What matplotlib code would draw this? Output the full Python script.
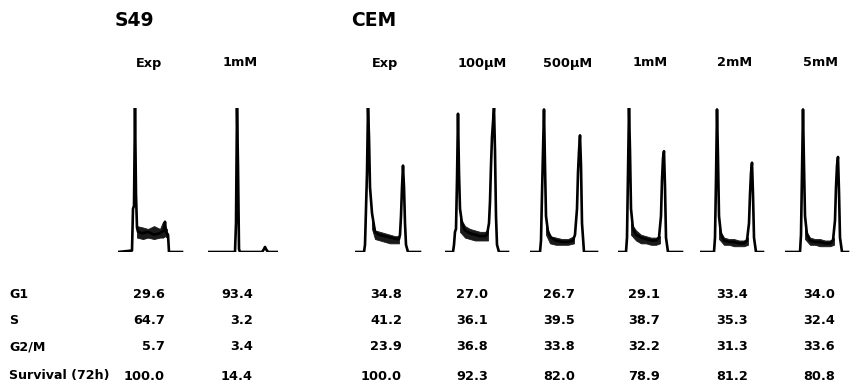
import matplotlib
matplotlib.use('Agg')
import matplotlib.pyplot as plt

W, H = 854, 389

# group titles and column labels
groups = ['S49', 'CEM']
columns = ['Exp', '1mM', 'Exp', '100\u00b5M', '500\u00b5M', '1mM', '2mM', '5mM']
row_labels = ['G1', 'S', 'G2/M', 'Survival (72h)']

# table values, one list per row
g1 = [29.6, 93.4, 34.8, 27.0, 26.7, 29.1, 33.4, 34.0]
s_phase = [64.7, 3.2, 41.2, 36.1, 39.5, 38.7, 35.3, 32.4]
g2m = [5.7, 3.4, 23.9, 36.8, 33.8, 32.2, 31.3, 33.6]
survival = [100.0, 14.4, 100.0, 92.3, 82.0, 78.9, 81.2, 80.8]

# DNA histograms (channel, relative count)
s49_exp_x = [0, 14, 15, 16, 17, 18, 19, 20, 24, 30, 36, 42, 46, 47, 48, 50, 51, 64]
s49_exp_y = [0, 1, 30, 32, 100, 40, 17, 14, 13, 14, 12, 13, 15, 21, 14, 12, 0, 0]
s49_1mm_x = [0, 27, 28, 29, 30, 31, 32, 54, 56, 57, 58, 60, 69]
s49_1mm_y = [0, 0, 20, 100, 60, 2, 0, 0, 2, 3.5, 2, 0, 0]
cem_exp_x = [0, 9, 10, 11, 12, 13, 14, 15, 17, 20, 24, 30, 36, 42, 44, 45, 46, 47, 48, 49, 50, 51, 53, 65]
cem_exp_y = [0, 0, 5, 30, 55, 100, 80, 45, 27, 14, 12, 11, 10, 9, 9, 12, 25, 45, 60, 45, 20, 5, 0, 0]
cem_100_x = [0, 8, 9, 10, 11, 12, 13, 14, 15, 17, 20, 25, 30, 35, 40, 42, 44, 45, 46, 47, 48, 49, 50, 51, 52, 54, 63]
cem_100_y = [0, 0, 5, 14, 16, 50, 96, 55, 30, 20, 15, 13, 12, 11, 11, 12, 20, 35, 60, 80, 90, 100, 70, 25, 5, 0, 0]
cem_500_x = [0, 10, 11, 12, 13, 14, 15, 16, 18, 21, 26, 32, 38, 43, 45, 47, 48, 49, 50, 51, 52, 54, 67]
cem_500_y = [0, 0, 8, 40, 70, 99, 60, 25, 14, 10, 8, 7, 7, 8, 12, 30, 55, 70, 81, 60, 20, 0, 0]
cem_1mm_x = [0, 8, 9, 10, 11, 12, 13, 15, 18, 23, 28, 33, 38, 41, 43, 44, 45, 46, 47, 48, 50, 64]
cem_1mm_y = [0, 0, 10, 55, 100, 70, 30, 16, 12, 10, 9, 8, 8, 10, 25, 50, 65, 70, 45, 10, 0, 0]
cem_2mm_x = [0, 14, 15, 16, 17, 18, 19, 21, 24, 29, 34, 39, 44, 47, 49, 50, 51, 52, 53, 54, 56, 63]
cem_2mm_y = [0, 0, 10, 50, 99, 65, 25, 12, 8, 7, 7, 6, 6, 8, 20, 40, 55, 62, 40, 10, 0, 0]
cem_5mm_x = [0, 15, 16, 17, 18, 19, 20, 22, 25, 30, 35, 40, 45, 48, 50, 51, 52, 53, 54, 55, 57, 63]
cem_5mm_y = [0, 0, 12, 55, 99, 60, 25, 12, 8, 7, 7, 6, 6, 8, 22, 45, 60, 66, 42, 10, 0, 0]

# S-phase noise band (channel, low, high)
s49_exp_band = ([19, 25, 30, 36, 42, 45, 47, 49], [10, 9, 10, 9, 10, 10, 11, 10], [18, 17, 16, 18, 16, 21, 17, 16])
s49_1mm_band = ([], [], [])
cem_exp_band = ([17, 20, 25, 30, 35, 40, 44], [16, 9, 8, 7, 6, 6, 6], [24, 15, 14, 13, 12, 11, 11])
cem_100_band = ([15, 20, 25, 30, 35, 40, 43], [14, 10, 9, 8, 8, 8, 8], [24, 18, 16, 15, 14, 14, 15])
cem_500_band = ([16, 20, 26, 32, 38, 44], [12, 6, 5, 5, 5, 6], [20, 11, 10, 9, 9, 11])
cem_1mm_band = ([13, 18, 23, 28, 33, 38, 42], [12, 8, 6, 6, 5, 5, 6], [20, 15, 12, 11, 10, 10, 11])
cem_2mm_band = ([19, 24, 29, 34, 39, 44, 48], [9, 5, 5, 4, 4, 4, 5], [16, 10, 9, 9, 8, 8, 10])
cem_5mm_band = ([20, 25, 30, 35, 40, 45, 49], [9, 5, 5, 4, 4, 4, 5], [16, 10, 9, 9, 8, 8, 10])

traces = [(s49_exp_x, s49_exp_y, s49_exp_band), (s49_1mm_x, s49_1mm_y, s49_1mm_band),
          (cem_exp_x, cem_exp_y, cem_exp_band), (cem_100_x, cem_100_y, cem_100_band),
          (cem_500_x, cem_500_y, cem_500_band), (cem_1mm_x, cem_1mm_y, cem_1mm_band),
          (cem_2mm_x, cem_2mm_y, cem_2mm_band), (cem_5mm_x, cem_5mm_y, cem_5mm_band)]

# layout in pixels
panel_left = [118, 208, 355, 445, 530, 618, 700, 785]
label_cx = [149, 240, 385, 482, 568, 650, 735, 821]
value_right = [165, 253, 402, 488, 575, 660, 748, 835]
row_y = [294, 320, 347, 376]
group_x = [115, 351]
base_y, top_y, pw = 252, 108, 70

fig = plt.figure(figsize=(W / 100, H / 100), dpi=100)
fig.patch.set_facecolor('white')
font = 'DejaVu Sans'


def fx(px):
    return px / W


def fy(py):
    return 1 - py / H


for (x, y, band), left in zip(traces, panel_left):
    ax = fig.add_axes([fx(left), fy(base_y), pw / W, (base_y - top_y) / H])
    if band[0]:
        ax.fill_between(band[0], band[1], band[2], color='#1a1a1a', lw=0.6, ec='#1a1a1a')
    ax.plot(x, y, color='black', lw=1.9, solid_joinstyle='round')
    ax.set_xlim(0, pw)
    ax.set_ylim(0, 100)
    ax.axis('off')

for name, gx in zip(groups, group_x):
    fig.text(fx(gx), fy(21), name, fontsize=13.5, fontweight='heavy', family=font,
             ha='left', va='center')

for lab, cx in zip(columns, label_cx):
    fig.text(fx(cx), fy(63), lab, fontsize=9.3, fontweight='bold', family=font,
             ha='center', va='center')

rows = [g1, s_phase, g2m, survival]
for lab, vals, ry in zip(row_labels, rows, row_y):
    fig.text(fx(9), fy(ry), lab, fontsize=9.1, fontweight='bold', family=font,
             ha='left', va='center')
    for v, rx in zip(vals, value_right):
        fig.text(fx(rx), fy(ry), f'{v:.1f}', fontsize=9.3, fontweight='bold',
                 family=font, ha='right', va='center')

fig.savefig('out.png', dpi=100)
